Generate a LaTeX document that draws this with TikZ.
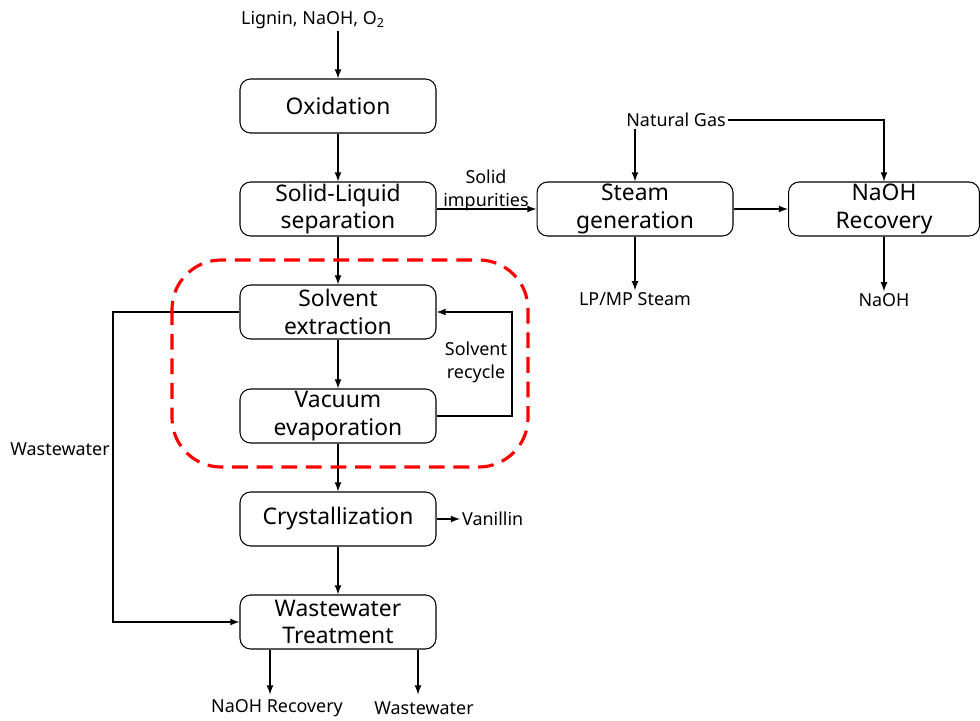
\documentclass[tikz,border=0pt]{standalone}
\usepackage{fontspec}
\setmainfont{Noto Sans}
\usetikzlibrary{arrows}

\tikzset{
    unit/.style={draw, line width=0.6pt, rounded corners=6pt, minimum width=3.92cm, minimum height=1.08cm,
        align=center, font=\fontsize{13}{15.5}\selectfont, inner sep=0pt},
    lbl/.style={align=center, font=\fontsize{10.2}{13}\selectfont, inner sep=1pt},
    flow/.style={-latex, line width=0.8pt},
}

\begin{document}
\begin{tikzpicture}[x=0.02cm, y=-0.02cm]
    \useasboundingbox (0,0) rectangle (980,720); % keeps the page size

    % process units
    \node[unit] (oxid) at (338,106) {Oxidation};
    \node[unit] (sep) at (338,209) {Solid-Liquid\\separation};
    \node[unit] (extr) at (338,312) {Solvent\\extraction};
    \node[unit] (evap) at (338,416) {Vacuum\\evaporation};
    \node[unit] (cryst) at (338,519) {Crystallization};
    \node[unit] (wwt) at (338,622) {Wastewater\\Treatment};
    \node[unit] (steam) at (635,209) {Steam\\generation};
    \node[unit, minimum width=3.82cm] (rec) at (884,209) {NaOH\\Recovery};

    % streams in and out
    \node[lbl] (feed) at (313,20) {Lignin, NaOH, O\textsubscript{2}};
    \node[lbl] (gas) at (676,120) {Natural Gas};
    \node[lbl] (solid) at (486,190) {Solid\\impurities};
    \node[lbl] (lpmp) at (635,299) {LP/MP Steam};
    \node[lbl] (naoh) at (884,300) {NaOH};
    \node[lbl] (recyc) at (476,362) {Solvent\\recycle};
    \node[lbl] (wwlbl) at (60,449) {Wastewater};
    \node[lbl, anchor=west] (van) at (460,519) {Vanillin};
    \node[lbl] (naohrec) at (277,708) {NaOH Recovery};
    \node[lbl] (ww) at (424,708) {Wastewater};

    % main line
    \draw[flow] (feed.south -| oxid) -- (oxid);
    \draw[flow] (oxid) -- (sep);
    \draw[flow] (sep) -- (extr);
    \draw[flow] (extr) -- (evap);
    \draw[flow] (evap) -- (cryst);
    \draw[flow] (cryst) -- (wwt);
    \draw[flow] (cryst) -- (van);
    \draw[flow] (wwt.south -| naohrec) ++(-7,0) -- ++(0,45);
    \draw[flow] (wwt.south -| ww) ++(-6,0) -- ++(0,45);

    % side lines
    \draw[flow] (sep) -- (steam);
    \draw[flow] (steam) -- (rec);
    \draw[flow] (gas.south -| steam) -- (steam);
    \draw[flow] (gas.east) -- (gas.east -| rec) -- (rec);
    \draw[flow] (steam) -- (lpmp);
    \draw[flow] (rec) -- (naoh);
    \draw[flow] (evap.east) -- (512,416) -- (512,312) -- (extr.east);
    \draw[flow] (extr.west) -- (113,312) -- (113,622) -- (wwt.west);

    % extraction section
    \draw[red, dashed, line width=1.8pt, dash pattern=on 9pt off 5pt, rounded corners=28pt]
        (172,260) rectangle (528,467);
\end{tikzpicture}
\end{document}
